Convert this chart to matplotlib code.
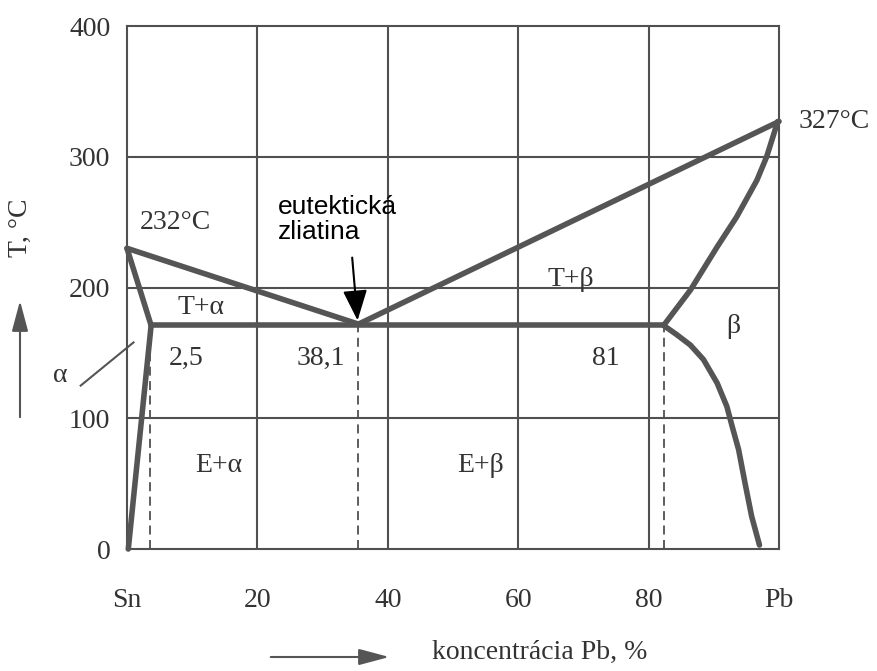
import numpy as np
import matplotlib.pyplot as plt
from matplotlib.patches import FancyArrowPatch

# phase boundaries (x = % Pb, y = T in C)
liq_left_x = [0, 35.5]
liq_left_y = [230, 172]
liq_right_x = [35.5, 100]
liq_right_y = [172, 327]
eut_x = [3.7, 82.3]
eut_y = [171, 171]
sol_a_x = [0, 3.7]
sol_a_y = [230, 171]
solv_a_x = [0.2, 3.7]
solv_a_y = [0, 171]
sol_b_x = [82.3, 86.4, 90.5, 93.5, 96.6, 98.1, 99.8]
sol_b_y = [171, 198, 231, 254, 282, 300, 327]
solv_b_x = [82.3, 84.3, 86.4, 88.4, 90.5, 92.0, 92.8, 93.8, 94.8, 95.8, 97.0]
solv_b_y = [171, 164, 156, 145, 127, 109, 94, 76, 50, 25, 3]
dash_x = [3.6, 35.4, 82.4]

xticks = [0, 20, 40, 60, 80, 100]
xlabels = ['Sn', '20', '40', '60', '80', 'Pb']
yticks = [0, 100, 200, 300, 400]

serif = 'Liberation Serif'
tc = '#333333'
lc = '#555555'
gc = '#505050'
fs = 20

fig = plt.figure(figsize=(8.77, 6.71), dpi=100)
ax = fig.add_axes([0.1448, 0.1818, 0.7435, 0.7794])
ax.set_xlim(0, 100)
ax.set_ylim(0, 400)

for v in [20, 40, 60, 80]:
    ax.axvline(v, color=gc, lw=1.5, zorder=1)
for v in [100, 200, 300]:
    ax.axhline(v, color=gc, lw=1.5, zorder=1)
for s in ax.spines.values():
    s.set_color(gc)
    s.set_linewidth(1.5)

for xs, ys in [(liq_left_x, liq_left_y), (liq_right_x, liq_right_y), (eut_x, eut_y),
               (sol_a_x, sol_a_y), (solv_a_x, solv_a_y), (sol_b_x, sol_b_y),
               (solv_b_x, solv_b_y)]:
    ax.plot(xs, ys, color=lc, lw=4, solid_capstyle='round', solid_joinstyle='round',
            clip_on=False, zorder=3)

for d in dash_x:
    ax.plot([d, d], [0, 171], color=gc, lw=1.3, ls=(0, (5, 3)), zorder=2)

ax.set_xticks(xticks)
ax.set_xticklabels(xlabels)
ax.set_yticks(yticks)
ax.tick_params(length=0, labelsize=fs, labelcolor=tc)
ax.tick_params(axis='x', pad=28)
ax.tick_params(axis='y', pad=12)
for lab in ax.get_xticklabels() + ax.get_yticklabels():
    lab.set_family(serif)

tk = dict(family=serif, fontsize=fs, color=tc)
ax.text(1.9, 250, '232°C', ha='left', va='center', **tk)
ax.text(103, 327, '327°C', ha='left', va='center', clip_on=False, **tk)
ax.text(11.3, 185, 'T+α', ha='center', va='center', **tk)
ax.text(9.0, 146, '2,5', ha='center', va='center', **tk)
ax.text(29.7, 146, '38,1', ha='center', va='center', **tk)
ax.text(73.4, 146, '81', ha='center', va='center', **tk)
ax.text(93.0, 170, 'β', ha='center', va='center', **tk)
ax.text(68, 206, 'T+β', ha='center', va='center', **tk)
ax.text(14, 64, 'E+α', ha='center', va='center', **tk)
ax.text(54.2, 64, 'E+β', ha='center', va='center', **tk)
ax.text(-10.2, 133, 'α', ha='center', va='center', clip_on=False, **tk)
ax.plot([-7.1, 1.0], [125, 158], color=lc, lw=1.5, clip_on=False)

ax.text(23.2, 252, 'eutektická\nzliatina', family='Liberation Sans', fontsize=19,
        color='black', ha='left', va='center', linespacing=1.05)
ax.annotate('', xy=(35.4, 172.7), xytext=(34.5, 225),
            arrowprops=dict(arrowstyle='-|>,head_length=0.75,head_width=0.3',
                            color='black', lw=1.5, mutation_scale=25))

# margin labels with arrows
fig.text(20 / 877, 1 - 228 / 671, 'T, °C', rotation=90, ha='center', va='center', **tk)
fig.text(432 / 877, 1 - 652 / 671, 'koncentrácia Pb, %', ha='left', va='center', **tk)
fig.patches.append(FancyArrowPatch(
    (20, 671 - 420), (20, 671 - 298), transform=None,
    arrowstyle='-|>,head_length=0.75,head_width=0.2',
    mutation_scale=25, color=lc, lw=1.5))
fig.patches.append(FancyArrowPatch(
    (268, 671 - 657), (392, 671 - 657), transform=None,
    arrowstyle='-|>,head_length=0.75,head_width=0.2',
    mutation_scale=25, color=lc, lw=1.5))

fig.savefig('out.png', dpi=100)
